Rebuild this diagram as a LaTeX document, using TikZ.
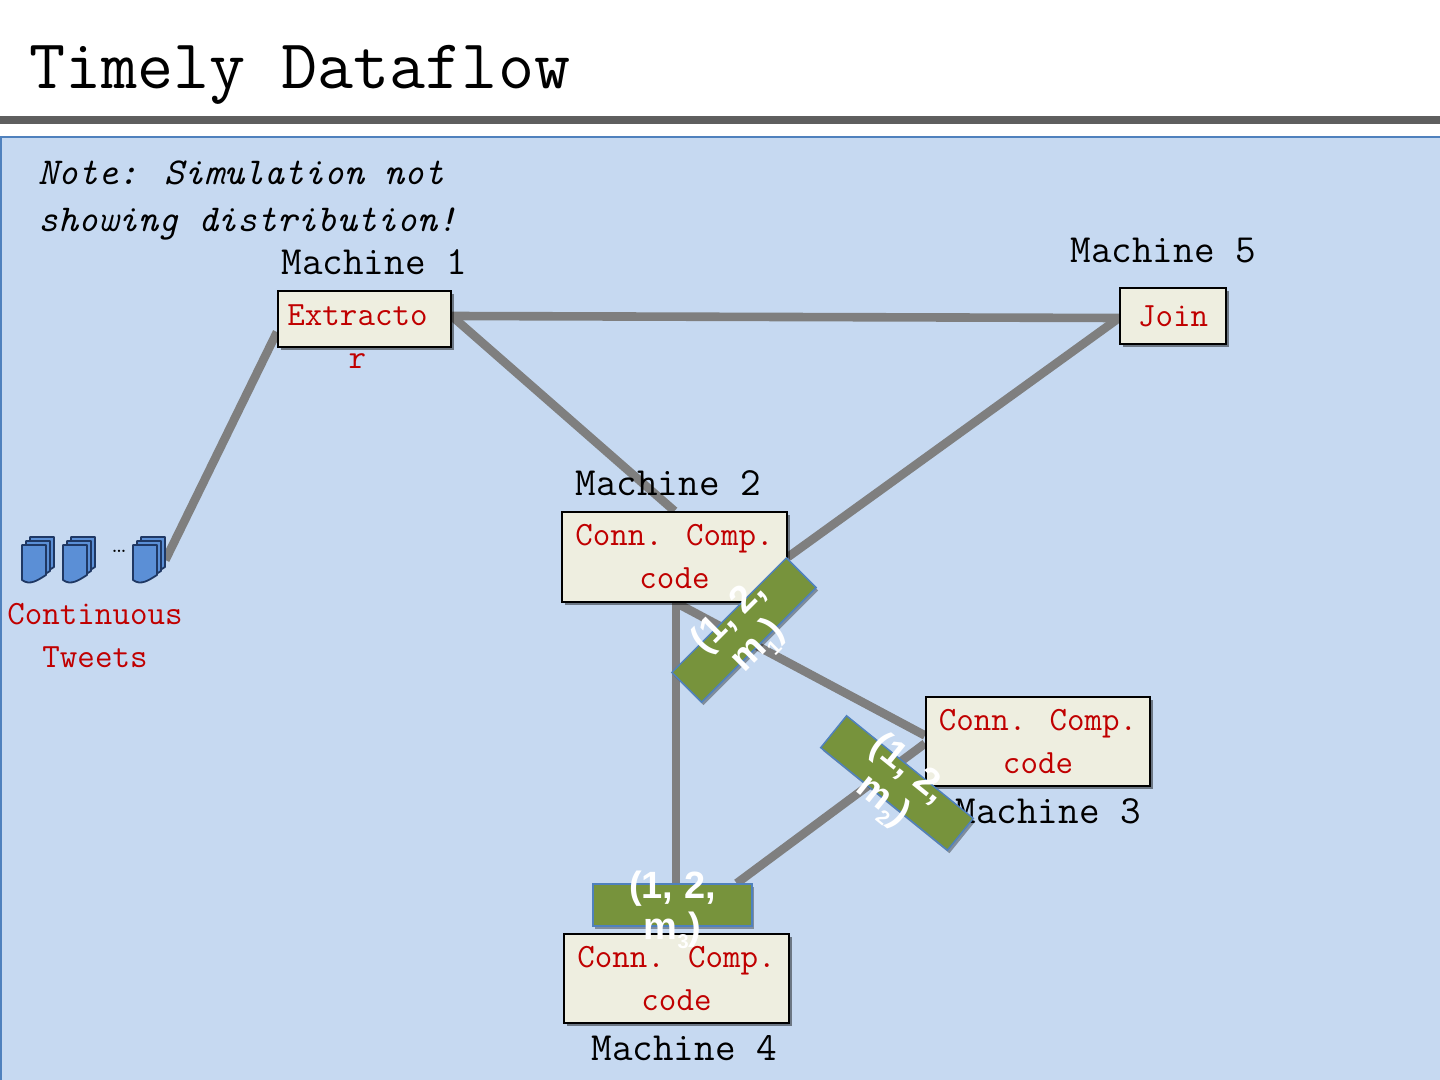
\documentclass[tikz,border=0pt]{standalone}
\usepackage{fontspec}
\newfontfamily\tdSans{Liberation Sans}
\usetikzlibrary{shadows,calc}
\definecolor{panel}{HTML}{C6D9F1}
\definecolor{panelline}{HTML}{4F81BD}
\definecolor{rulegray}{HTML}{5F5F5F}
\definecolor{boxfill}{HTML}{EEEEE0}
\definecolor{ccred}{HTML}{C00000}
\definecolor{wiregray}{HTML}{7F7F7F}
\definecolor{ggreen}{HTML}{77933C}
\definecolor{gline}{HTML}{4F81BD}
\definecolor{docfill}{HTML}{5B8FD6}
\definecolor{docline}{HTML}{1F3864}
\newcommand\tdTitle{\ttfamily\fontsize{35}{40}\selectfont}
\newcommand\tdMach{\ttfamily\fontsize{20}{24}\selectfont}
\newcommand\tdNote{\ttfamily\itshape\fontsize{19}{23.5}\selectfont}
\newcommand\tdRed{\ttfamily\fontsize{17}{21.5}\selectfont}
\newcommand\tdG{\tdSans\bfseries\fontsize{19}{20.5}\selectfont}
\newcommand\tdSub[1]{\raisebox{-0.25em}{\fontsize{10}{10}\selectfont #1}}
\pgfdeclarelayer{bg}
\pgfdeclarelayer{wires}
\pgfsetlayers{bg,wires,main}
\begin{document}
\begin{tikzpicture}[x=0.5pt,y=-0.5pt,
  mach/.style={font=\tdMach, text=black, anchor=base west, inner sep=0pt},
  ccbox/.style={draw=black, line width=1pt, fill=boxfill, inner sep=0pt,
    drop shadow={shadow xshift=1.5pt, shadow yshift=-1.5pt, fill=black, opacity=0.45}},
  redtxt/.style={text=ccred, font=\tdRed, align=center, inner sep=0pt},
  wire/.style={draw=wiregray, line width=4.3pt},
  gbox/.style={fill=ggreen, draw=gline, line width=0.75pt, inner sep=0pt,
    drop shadow={shadow xshift=1pt, shadow yshift=-1.5pt, fill=black, opacity=0.35}},
  gtxt/.style={text=white, font=\tdG, align=center, inner sep=0pt},
  doc/.style={fill=docfill, draw=docline, line width=0.9pt, line join=round}
]
\useasboundingbox (0,0) rectangle (1440,1080);
\begin{pgfonlayer}{bg}
\clip (0,0) rectangle (1440,1080);
\fill[white] (0,0) rectangle (1440,1080);
\fill[rulegray] (0,116) rectangle (1440,124);
\draw[panelline, line width=1pt, fill=panel] (1,137.5) rectangle (1460,1100);
\end{pgfonlayer}
% title
\node[font=\tdTitle, anchor=base west, inner sep=0pt] (title) at (29,89) {Timely Dataflow};

% note
\node[font=\tdNote, anchor=north west, align=left, inner sep=0pt] (note) at (38,160)
  {Note: Simulation not\\showing distribution!};

% tweet documents
\foreach \xx/\nm in {22/tw1,63/tw2,133/tw3}{
  \foreach \oo in {8,4,0}{
    \path[doc] (\xx+\oo,545-\oo) -- (\xx+\oo+24,545-\oo) -- (\xx+\oo+24,575-\oo)
      .. controls (\xx+\oo+16,580-\oo) and (\xx+\oo+8,586-\oo) .. (\xx+\oo,580-\oo) -- cycle;
  }
  \node[minimum width=16pt, minimum height=23pt, inner sep=0pt] (\nm) at (\xx+16,560) {};
}
\node[font=\rmfamily\fontsize{12}{12}\selectfont, anchor=base, inner sep=0pt] (dots) at (119,552) {\ldots};
\node[redtxt] (tweets) at (95,636) {Continuous\\Tweets};

% boxes
\node[ccbox, minimum width=86.5pt, minimum height=28pt] (ext) at (364.5,319) {};
\node[ccbox, minimum width=53pt, minimum height=28pt, text=ccred, font=\tdRed] (join) at (1173,316) {Join};
\node[ccbox, minimum width=112.5pt, minimum height=45pt, text=ccred, font=\tdRed, align=center] (cc2) at (674.5,557) {Conn. Comp.\\code};
\node[ccbox, minimum width=112pt, minimum height=44.5pt, text=ccred, font=\tdRed, align=center] (cc3) at (1038,741.5) {Conn. Comp.\\code};
\node[ccbox, minimum width=112.5pt, minimum height=44.5pt, text=ccred, font=\tdRed, align=center] (cc4) at (676.5,978.5) {Conn. Comp.\\code};
\node[redtxt] (extt) at (357.5,337) {Extracto\\r};

% machine labels
\node[mach] (m1) at (281,275) {Machine 1};
\node[mach] (m5) at (1070,263) {Machine 5};
\node[mach] (m2) at (575,495) {Machine 2};
\node[mach] (m3) at (955,823) {Machine 3};
\node[mach] (m4) at (591,1060) {Machine 4};

% green message boxes
\node[gbox, rotate=45, minimum width=81pt, minimum height=21pt] (g1) at (744,630) {};
\node[gtxt, rotate=45] (g1t) at (744,632) {(1, 2,\\m\tdSub{1})};
\node[gbox, rotate=-39, minimum width=81.5pt, minimum height=20.5pt] (g2) at (897,783) {};
\node[gtxt, rotate=-39] (g2t) at (895,786) {(1, 2,\\m\tdSub{2})};
\node[gbox, minimum width=79.5pt, minimum height=21pt] (g3) at (672.5,905) {};
\node[gtxt] (g3t) at (672.5,910) {(1, 2,\\m\tdSub{3})};

% wires
\begin{pgfonlayer}{wires}
\draw[wire] (tw3.east) -- ($(ext.west)+(0,13)$);
\draw[wire] ($(ext.east)+(0,-3)$) -- ($(join.west)+(0,2)$);
\draw[wire] ($(ext.east)+(2,-1)$) -- (cc2.north);
\draw[wire] ($(join.west)+(0,2)$) -- (cc2.east);
\draw[wire] ($(cc2.south)+(1.5,0)$) -- ($(cc2.south |- g3.center)+(1.5,0)$);
\draw[wire] ($(cc2.south)+(2,0)$) -- ($(cc3.west)+(0,-6)$);
\draw[wire] ($(cc3.west)+(0,2)$) -- ($(g3.north east)+(-16,0)$);
\end{pgfonlayer}
\end{tikzpicture}
\end{document}
